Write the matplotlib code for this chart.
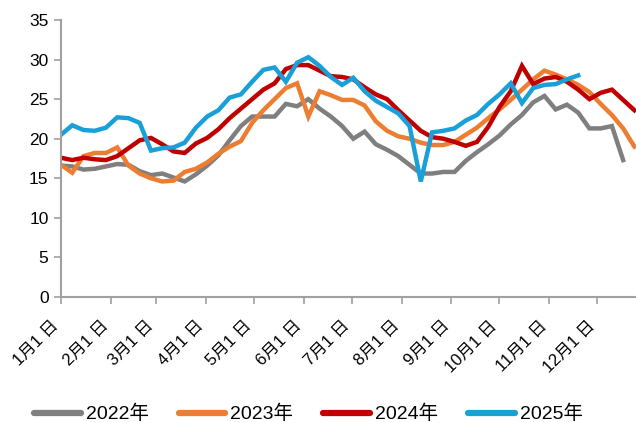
import matplotlib
matplotlib.use("Agg")
import matplotlib.pyplot as plt
import matplotlib.transforms as mtransforms
import numpy as np

plt.rcParams["font.family"] = ["Liberation Sans", "Noto Sans CJK SC", "DejaVu Sans"]

# weekly values, week k sits on day 7*k of the year
y2022 = [16.6, 16.5, 16.1, 16.2, 16.5, 16.8, 16.7, 15.9, 15.4, 15.6,
         15.1, 14.6, 15.5, 16.6, 17.9, 19.8, 21.6, 22.8, 22.8, 22.8,
         24.4, 24.1, 25.0, 23.8, 22.8, 21.6, 20.0, 20.9, 19.3, 18.6,
         17.8, 16.7, 15.6, 15.6, 15.8, 15.8, 17.2, 18.3, 19.3, 20.4,
         21.8, 23.0, 24.6, 25.4, 23.7, 24.3, 23.3, 21.3, 21.3, 21.6,
         17.3]
y2023 = [16.7, 15.7, 17.8, 18.2, 18.2, 18.9, 16.6, 15.6, 15.0, 14.6,
         14.7, 15.8, 16.2, 17.0, 18.1, 19.0, 19.7, 22.0, 23.6, 25.0,
         26.4, 27.0, 22.8, 26.0, 25.5, 24.9, 24.9, 24.2, 22.2, 21.0,
         20.3, 20.0, 19.5, 19.2, 19.2, 19.6, 20.5, 21.4, 22.6, 23.7,
         24.9, 26.2, 27.5, 28.6, 28.1, 27.5, 26.8, 25.9, 24.4, 23.0,
         21.3, 19.0]
y2024 = [17.6, 17.3, 17.6, 17.4, 17.3, 17.8, 18.8, 19.8, 20.1, 19.3,
         18.4, 18.2, 19.4, 20.1, 21.2, 22.6, 23.8, 25.0, 26.2, 27.0,
         28.8, 29.3, 29.3, 28.6, 27.9, 27.8, 27.5, 26.5, 25.6, 25.0,
         23.6, 22.3, 21.0, 20.2, 20.0, 19.6, 19.1, 19.6, 21.5, 24.0,
         26.0, 29.2, 26.9, 27.6, 27.8, 27.2, 26.2, 25.0, 25.8, 26.2,
         24.9, 23.6]
y2025 = [20.5, 21.7, 21.1, 21.0, 21.4, 22.7, 22.6, 22.0, 18.5, 18.8,
         18.9, 19.5, 21.4, 22.8, 23.6, 25.2, 25.6, 27.2, 28.7, 29.0,
         27.2, 29.6, 30.3, 29.2, 27.8, 26.8, 27.7, 26.0, 24.8, 24.0,
         23.2, 21.6, 14.6, 20.8, 21.0, 21.3, 22.3, 23.0, 24.4, 25.6,
         27.0, 24.5, 26.4, 26.8, 26.9, 27.5, 28.0]

month_days = [0, 31, 59, 90, 120, 151, 181, 212, 243, 273, 304, 334]
month_labels = [f"{m}月1 日" for m in range(1, 13)]

series = [("2022年", y2022, "#7f7f7f"),
          ("2023年", y2023, "#ed7d31"),
          ("2024年", y2024, "#c00000"),
          ("2025年", y2025, "#19a0d8")]

fig = plt.figure(figsize=(6.36, 4.22), dpi=100)
ax = fig.add_axes([61 / 636, 125 / 422, 575 / 636, 277 / 422])

for name, vals, color in series:
    days = np.arange(len(vals)) * 7
    ax.plot(days, vals, color=color, lw=3.2, label=name, solid_joinstyle="miter")

ax.set_xlim(0, 358)
ax.set_ylim(0, 35)
ax.set_yticks(range(0, 36, 5))
ax.set_xticks(month_days)
ax.set_xticklabels(month_labels, rotation=45, ha="right", rotation_mode="anchor",
                   fontsize=12)
ax.tick_params(axis="y", labelsize=12.5, length=5, width=1.2, color="#a0a0a0", pad=4)
ax.tick_params(axis="x", length=5, width=1.2, color="#a0a0a0", pad=6)

# nudge the slanted month labels a bit left and down, like the original
shift = mtransforms.ScaledTranslation(-0.1, -0.06, fig.dpi_scale_trans)
for lab in ax.get_xticklabels():
    lab.set_transform(lab.get_transform() + shift)

for s in ["top", "right"]:
    ax.spines[s].set_visible(False)
for s in ["left", "bottom"]:
    ax.spines[s].set_color("#a0a0a0")
    ax.spines[s].set_linewidth(1.5)

leg = fig.legend(loc="lower center", bbox_to_anchor=(0.485, -0.045), ncol=4, frameon=False,
                 fontsize=14, handlelength=2.4, handletextpad=0.25, columnspacing=1.55)
for h in leg.legend_handles:
    h.set_linewidth(4.5)
    h.set_solid_capstyle("round")

fig.savefig("out.png", dpi=100)
